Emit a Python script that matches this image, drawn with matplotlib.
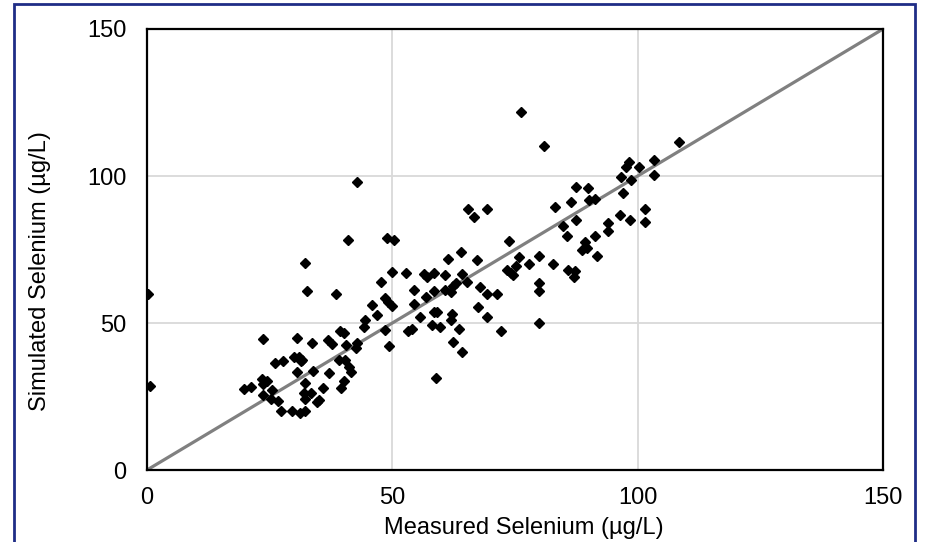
import matplotlib
matplotlib.use("Agg")
import matplotlib.pyplot as plt
from matplotlib.patches import Rectangle

plt.rcParams["font.family"] = ["Liberation Sans", "DejaVu Sans"]

# measured vs simulated selenium, ug/L
measured = [
    0.2, 0.7, 19.8, 21.1, 23.4, 24.5, 23.6, 23.6, 25.4, 23.7,
    25.2, 26.8, 26.1, 27.8, 27.4, 29.6, 31.2, 32.3, 30.0, 31.0,
    31.6, 31.3, 30.5, 30.6, 31.9, 33.4, 32.3, 32.3, 32.3, 32.7,
    33.7, 33.9, 34.6, 35.1, 35.8, 36.9, 37.8, 37.0, 38.6, 39.3,
    40.1, 39.2, 40.3, 40.6, 40.1, 39.5, 41.2, 41.6, 41.0, 42.8,
    42.9, 42.5, 44.4, 44.2, 45.9, 46.8, 47.6, 48.5, 49.2, 49.9,
    48.5, 49.4, 49.0, 50.3, 49.9, 52.7, 53.1, 54.1, 54.5, 54.5,
    55.6, 56.5, 57.0, 56.8, 58.5, 58.4, 58.4, 59.2, 58.0, 59.7,
    58.9, 60.7, 60.7, 61.9, 62.9, 62.4, 62.1, 61.9, 61.3, 63.9,
    63.6, 62.3, 64.1, 64.3, 65.3, 65.5, 66.6, 69.2, 67.3, 67.9,
    69.3, 71.3, 67.5, 69.3, 72.1, 73.3, 74.2, 74.5, 73.8, 75.3,
    75.9, 77.9, 76.2, 79.9, 79.9, 79.9, 79.9, 81.0, 82.7, 83.2,
    84.8, 85.6, 85.7, 87.2, 87.1, 86.5, 87.4, 87.5, 89.8, 90.0,
    91.3, 89.3, 88.6, 89.7, 91.3, 91.8, 94.0, 93.9, 96.4, 97.1,
    96.6, 98.6, 97.6, 98.2, 100.3, 98.5, 101.5, 101.5, 103.4, 103.4,
    108.4,
]
simulated = [
    60.0, 28.6, 27.7, 28.3, 30.9, 30.4, 29.1, 44.6, 27.2, 25.4,
    24.1, 23.6, 36.3, 37.1, 20.2, 20.2, 19.5, 20.2, 38.3, 38.5,
    37.4, 37.1, 33.3, 44.8, 26.1, 26.1, 24.0, 29.5, 70.4, 60.9,
    43.3, 33.6, 23.2, 23.8, 28.0, 44.2, 42.9, 32.9, 59.9, 47.4,
    46.7, 37.4, 37.4, 42.5, 30.2, 27.8, 34.9, 33.3, 78.1, 98.1,
    43.1, 41.6, 50.9, 48.7, 56.1, 52.7, 63.9, 58.4, 57.3, 55.8,
    47.6, 42.2, 79.0, 78.2, 67.3, 67.0, 47.4, 48.1, 61.3, 56.5,
    51.9, 66.6, 65.8, 58.7, 66.9, 61.0, 53.9, 53.9, 49.4, 48.8,
    31.3, 66.2, 61.3, 60.4, 63.6, 62.5, 53.1, 51.1, 71.7, 74.2,
    48.1, 43.4, 40.0, 66.7, 64.1, 88.8, 86.0, 88.8, 71.4, 62.2,
    59.9, 59.9, 55.6, 52.0, 47.4, 68.0, 66.9, 66.3, 77.9, 69.3,
    72.6, 70.2, 121.9, 72.8, 63.7, 61.0, 49.9, 110.2, 70.1, 89.4,
    83.1, 79.7, 67.9, 67.6, 65.5, 91.1, 84.9, 96.2, 95.9, 91.7,
    92.1, 77.7, 74.8, 75.4, 79.6, 72.8, 83.9, 81.4, 86.7, 94.1,
    99.6, 98.6, 103.0, 104.9, 103.0, 84.9, 88.8, 84.2, 105.4, 100.3,
    111.7,
]

one_to_one = [0, 150]
ticks = [0, 50, 100, 150]

fig = plt.figure(figsize=(9.35, 5.42), dpi=100)
ax = fig.add_axes([0.1572, 0.1328, 0.7872, 0.8137])

ax.plot(one_to_one, one_to_one, color="#808080", lw=2.3, zorder=2)
ax.plot(measured, simulated, linestyle="none", marker="D", ms=5.1,
        color="black", zorder=3)

ax.set_xlim(0, 150)
ax.set_ylim(0, 150)
ax.set_xticks(ticks)
ax.set_yticks(ticks)
ax.grid(True, color="#d9d9d9", lw=1.3, zorder=0)
ax.set_axisbelow(True)
ax.tick_params(axis="x", length=0, labelsize=17, pad=12)
ax.tick_params(axis="y", length=0, labelsize=17, pad=15)
for sp in ax.spines.values():
    sp.set_linewidth(1.6)
    sp.set_color("black")

ax.set_xlabel("Measured Selenium (µg/L)", fontsize=17, va="center")
ax.set_ylabel("Simulated Selenium (µg/L)", fontsize=17, va="center")
ax.xaxis.set_label_coords(0.512, -0.132)
ax.yaxis.set_label_coords(-0.145, 0.45)

# outer frame of the figure
fig.patches.append(Rectangle((0.015, -0.05), 0.964, 1.043, transform=fig.transFigure,
                             fill=False, edgecolor="#1f2d86", lw=2))

fig.savefig("out.png", dpi=100)
